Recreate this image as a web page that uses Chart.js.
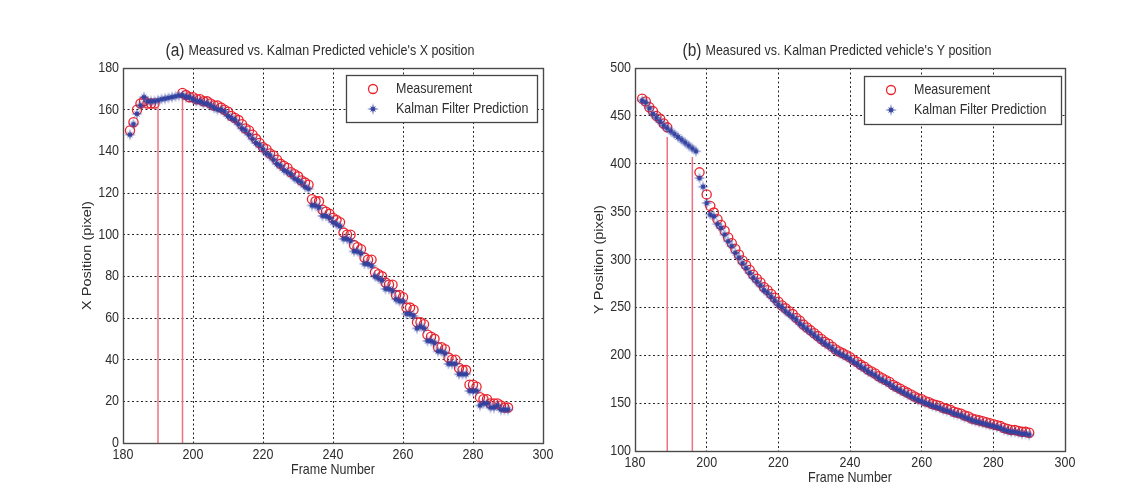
<!DOCTYPE html>
<html>
<head>
<meta charset="utf-8">
<title>Kalman tracking</title>
<script src="https://cdn.jsdelivr.net/npm/chart.js@4.4.1/dist/chart.umd.min.js"></script>
<style>
  body { margin: 0; background: #fff; }
  #wrap { position: relative; width: 1135px; height: 490px; }
  .pane { position: absolute; top: 0; height: 490px; }
</style>
</head>
<body>
<div id="wrap">
  <div class="pane" style="left:0;width:567px"><canvas id="xChart"></canvas></div>
  <div class="pane" style="left:567px;width:568px"><canvas id="yChart"></canvas></div>
</div>
<script>
// frame index for every sample
const frames = [
  182, 183, 184, 185, 186, 187, 188, 189,
  190, 191, 192, 193, 194, 195, 196, 197,
  198, 199, 200, 201, 202, 203, 204, 205, 206, 207,
  208, 209, 210, 211, 212, 213, 214, 215, 216, 217,
  218, 219, 220, 221, 222, 223, 224, 225, 226, 227,
  228, 229, 230, 231, 232, 233, 234, 235, 236, 237,
  238, 239, 240, 241, 242, 243, 244, 245, 246, 247,
  248, 249, 250, 251, 252, 253, 254, 255, 256, 257,
  258, 259, 260, 261, 262, 263, 264, 265, 266, 267,
  268, 269, 270, 271, 272, 273, 274, 275, 276, 277,
  278, 279, 280, 281, 282, 283, 284, 285, 286, 287,
  288, 289, 290
];

// X position (pixel): detector output, null while the vehicle is occluded
const xMeasured = [
  150, 154, 160, 163, 164, 163, 163, 163,
  null, null, null, null, null, null, null, 168,
  167, 166, 166, 165, 165, 164, 164, 163, 162, 162,
  161, 160, 159, 157, 156, 155, 153, 151, 150, 148,
  146, 144, 142, 141, 139, 138, 136, 134, 133, 132,
  130, 129, 128, 126, 125, 124, 117, 116, 116, 112,
  111, 110, 108, 107, 106, 101, 100, 100, 95, 94,
  93, 89, 88, 88, 82, 81, 80, 77, 76, 76,
  71, 71, 70, 65, 65, 64, 58, 58, 57, 52,
  51, 50, 46, 46, 45, 41, 40, 40, 36, 35,
  35, 28, 28, 27, 22, 21, 21, 19, 19, 19,
  18, 17, 17
];
const xPredicted = [
  148, 153, 158, 162, 166, 164, 164, 164,
  164.5, 165, 165.3, 165.7, 166, 166.4, 166.8, 167,
  166, 166, 165, 164, 164, 163, 163, 162, 161, 160,
  160, 159, 157, 156, 155, 153, 151, 150, 148, 146,
  144, 143, 141, 139, 138, 136, 134, 133, 131, 130,
  129, 127, 126, 125, 123, 122, 114, 114, 113, 109,
  109, 108, 106, 105, 104, 98, 98, 97, 92, 92,
  91, 86, 86, 85, 80, 79, 78, 74, 74, 73,
  69, 68, 68, 62, 62, 61, 55, 56, 55, 49,
  49, 48, 44, 44, 43, 38, 38, 38, 33, 33,
  33, 25, 25, 25, 18, 19, 19, 17, 17, 18,
  16, 16, 16
];

// Y position (pixel)
const yMeasured = [
  468, 465, 459, 455, 450, 447, 442, 438,
  null, null, null, null, null, null, null, null,
  391, null, 368, 356, 349, 342, 336, 330, 323, 317,
  311, 305, 299, 294, 289, 284, 280, 276, 271, 268,
  264, 260, 256, 252, 249, 246, 243, 239, 236, 232,
  229, 226, 223, 220, 217, 214, 212, 209, 206, 204,
  202, 200, 198, 195, 193, 190, 188, 185, 183, 181,
  178, 176, 174, 172, 169, 167, 165, 163, 161, 159,
  157, 155, 154, 152, 151, 149, 148, 147, 145, 144,
  143, 141, 140, 139, 137, 136, 134, 133, 132, 131,
  130, 129, 128, 127, 126, 124, 123, 122, 122, 121,
  120, 120, 119
];
const yPredicted = [
  466, 464, 458, 452, 448, 444, 440, 437,
  434, 431, 428, 425, 422, 419, 416, 413,
  385, 376, 359, 347, 345, 337, 333, 326, 319, 314,
  307, 302, 296, 291, 286, 281, 277, 273, 268, 265,
  261, 257, 253, 250, 246, 243, 240, 237, 233, 230,
  227, 224, 221, 218, 215, 212, 210, 207, 204, 202,
  200, 198, 196, 193, 191, 188, 186, 183, 181, 179,
  176, 174, 172, 170, 167, 165, 163, 161, 159, 157,
  155, 153, 152, 150, 149, 147, 146, 145, 143, 142,
  141, 139, 138, 137, 135, 134, 132, 131, 130, 129,
  128, 127, 126, 125, 124, 122, 121, 120, 120, 119,
  118, 118, 117
];

// occlusion start / end markers
const xOcclusionFrames = [190, 197];
const xOcclusionTops = [161, 168];
const yOcclusionFrames = [189, 196];
const yOcclusionTops = [428, 407];

// axis ticks
const frameTicks = [180, 200, 220, 240, 260, 280, 300];
const xPosTicks = [0, 20, 40, 60, 80, 100, 120, 140, 160, 180];
const yPosTicks = [100, 150, 200, 250, 300, 350, 400, 450, 500];

const RED = 'rgb(236, 34, 44)';
const BLUE = 'rgb(50, 66, 160)';
const STEM = 'rgb(240, 112, 132)';
const TEXT = '#2e2e2e';
const SX = 0.86;            // the figure text is slightly condensed
const FONT = '14.5px "Liberation Sans", Arial, sans-serif';

// filled star marker
function starMarker(size, color) {
  const c = document.createElement('canvas');
  c.width = c.height = size;
  const g = c.getContext('2d');
  const r = size / 2;
  g.fillStyle = color;
  g.beginPath();
  for (let i = 0; i < 16; i++) {
    const a = i * Math.PI / 8 - Math.PI / 2;
    let rr;
    if (i % 2) rr = r * 0.3;
    else rr = (i % 4 === 0) ? r : r * 0.68;
    g.lineTo(r + rr * Math.cos(a), r + rr * Math.sin(a));
  }
  g.closePath();
  g.fill();
  return c;
}
const star = starMarker(12, BLUE);

function squeeze(ctx, text, x, y, font, align) {
  ctx.save();
  ctx.translate(x, y);
  ctx.scale(SX, 1);
  ctx.font = font;
  ctx.textAlign = align;
  ctx.textBaseline = 'middle';
  ctx.fillText(text, 0, 0);
  ctx.restore();
}

// box, tick labels, titles and legend in the old plotting style
const figureDecor = {
  id: 'figureDecor',
  afterDraw(chart, args, opts) {
    const { ctx, chartArea: a, scales } = chart;
    ctx.save();
    ctx.strokeStyle = '#4a4a4a';
    ctx.lineWidth = 1.4;
    ctx.strokeRect(a.left + 0.5, a.top + 0.5, a.right - a.left, a.bottom - a.top);

    ctx.fillStyle = TEXT;
    opts.yTicks.forEach(v => squeeze(ctx, String(v), a.left - 4, scales.y.getPixelForValue(v), FONT, 'right'));
    opts.xTicks.forEach(v => squeeze(ctx, String(v), scales.x.getPixelForValue(v), a.bottom + 12, FONT, 'center'));

    squeeze(ctx, opts.xTitle, (a.left + a.right) / 2, a.bottom + 27, FONT, 'center');
    ctx.save();
    ctx.translate(a.left - 35, (a.top + a.bottom) / 2);
    ctx.scale(SX, 1);
    ctx.rotate(-Math.PI / 2);
    ctx.font = FONT;
    ctx.textAlign = 'center';
    ctx.textBaseline = 'middle';
    ctx.fillText(opts.yTitle, 0, 0);
    ctx.restore();

    // title: larger panel letter followed by the caption
    const bigFont = '18px "Liberation Sans", Arial, sans-serif';
    ctx.font = bigFont;
    const w1 = ctx.measureText(opts.tag).width * SX;
    ctx.font = FONT;
    const w2 = ctx.measureText(opts.caption).width * SX;
    const gap = 4;
    const cx = (a.left + a.right) / 2 - 13;
    const ty = a.top - 17;
    const tx = cx - (w1 + gap + w2) / 2;
    squeeze(ctx, opts.tag, tx, ty, bigFont, 'left');
    squeeze(ctx, opts.caption, tx + w1 + gap, ty, FONT, 'left');

    // legend
    const L = opts.legend;
    const bx = a.right - L.right - L.w;
    const by = a.top + L.top;
    ctx.fillStyle = '#fff';
    ctx.fillRect(bx, by, L.w, L.h);
    ctx.strokeStyle = '#444';
    ctx.lineWidth = 1.3;
    ctx.strokeRect(bx + 0.5, by + 0.5, L.w, L.h);
    const mx = bx + 27;
    const r1 = by + 14, r2 = by + 34;
    ctx.strokeStyle = RED;
    ctx.lineWidth = 1.3;
    ctx.beginPath();
    ctx.arc(mx, r1, 4.5, 0, Math.PI * 2);
    ctx.stroke();
    ctx.drawImage(star, mx - star.width / 2, r2 - star.height / 2);
    ctx.fillStyle = TEXT;
    squeeze(ctx, 'Measurement', bx + 50, r1, FONT, 'left');
    squeeze(ctx, 'Kalman Filter Prediction', bx + 50, r2, FONT, 'left');
    ctx.restore();
  }
};

function stemSet(frame, top, base) {
  return {
    data: [{ x: frame, y: base }, { x: frame, y: top }],
    showLine: true,
    borderColor: STEM,
    borderWidth: 1.5,
    pointRadius: 0,
    order: 3
  };
}

function buildChart(id, cfg) {
  const toPoints = ys => frames.map((f, i) => ({ x: f, y: ys[i] }));
  const gridStyle = {
    color: '#262626',
    lineWidth: 1,
    drawTicks: false
  };
  return new Chart(document.getElementById(id), {
    type: 'scatter',
    data: {
      datasets: [
        ...cfg.stemFrames.map((f, i) => stemSet(f, cfg.stemTops[i], cfg.yTicks[0])),
        {
          label: 'Measurement',
          data: toPoints(cfg.measured),
          pointStyle: 'circle',
          pointRadius: 4.6,
          borderWidth: 1.3,
          borderColor: RED,
          backgroundColor: 'rgba(0,0,0,0)',
          order: 2
        },
        {
          label: 'Kalman Filter Prediction',
          data: toPoints(cfg.predicted),
          pointStyle: star,
          order: 1
        }
      ]
    },
    options: {
      responsive: true,
      maintainAspectRatio: false,
      animation: false,
      layout: { padding: cfg.padding },
      plugins: {
        legend: { display: false },
        tooltip: { enabled: false },
        figureDecor: {
          tag: cfg.tag,
          caption: cfg.caption,
          xTitle: 'Frame Number',
          yTitle: cfg.yTitle,
          xTicks: frameTicks,
          yTicks: cfg.yTicks,
          legend: cfg.legend
        }
      },
      scales: {
        x: {
          type: 'linear',
          min: frameTicks[0],
          max: frameTicks[frameTicks.length - 1],
          ticks: { display: false, stepSize: 20 },
          grid: gridStyle,
          border: { display: false, dash: [2, 2.5] },
          afterFit: s => { s.height = 0; }
        },
        y: {
          min: cfg.yTicks[0],
          max: cfg.yTicks[cfg.yTicks.length - 1],
          ticks: { display: false, stepSize: cfg.yTicks[1] - cfg.yTicks[0] },
          grid: gridStyle,
          border: { display: false, dash: [2, 2.5] },
          afterFit: s => { s.width = 0; }
        }
      }
    },
    plugins: [figureDecor]
  });
}

document.addEventListener('DOMContentLoaded', () => {
  buildChart('xChart', {
    tag: '(a)',
    caption: "Measured vs. Kalman Predicted vehicle's X position",
    yTitle: 'X Position (pixel)',
    yTicks: xPosTicks,
    measured: xMeasured,
    predicted: xPredicted,
    stemFrames: xOcclusionFrames,
    stemTops: xOcclusionTops,
    padding: { left: 123, top: 68, right: 24, bottom: 47 },
    legend: { right: 6, top: 7, w: 191, h: 47 }
  });
  buildChart('yChart', {
    tag: '(b)',
    caption: "Measured vs. Kalman Predicted vehicle's Y position",
    yTitle: 'Y Position (pixel)',
    yTicks: yPosTicks,
    measured: yMeasured,
    predicted: yPredicted,
    stemFrames: yOcclusionFrames,
    stemTops: yOcclusionTops,
    padding: { left: 68, top: 68, right: 70, bottom: 39 },
    legend: { right: 4, top: 8, w: 197, h: 48 }
  });
});
</script>
</body>
</html>
